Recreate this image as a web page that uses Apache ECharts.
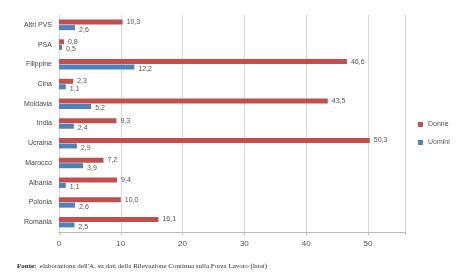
<!DOCTYPE html>
<html>
<head>
<meta charset="utf-8">
<script src="https://cdn.jsdelivr.net/npm/echarts@6/dist/echarts.min.js"></script>
<style>
  html, body { margin: 0; padding: 0; background: #fff; }
  #chart { width: 457px; height: 273px; }
</style>
</head>
<body>
<div id="chart"></div>
<script>
// countries, top to bottom
var countries = ['Altri PVS', 'PSA', 'Filippine', 'Cina', 'Moldavia', 'India', 'Ucraina', 'Marocco', 'Albania', 'Polonia', 'Romania'];
var donne = [10.3, 0.8, 46.6, 2.3, 43.5, 9.3, 50.3, 7.2, 9.4, 10.0, 16.1];
var uomini = [2.6, 0.5, 12.2, 1.1, 5.2, 2.4, 2.9, 3.9, 1.1, 2.6, 2.5];
var xTicks = [0, 10, 20, 30, 40, 50];

var myChart = echarts.init(document.getElementById('chart'));

// labels use the comma as decimal separator
function fmt(p) {
    return p.value.toFixed(1).replace('.', ',');
}

var option = {
    animation: false,
    textStyle: { fontFamily: 'Liberation Sans' },
    legend: {
        orient: 'vertical',
        left: 413,
        top: 116,
        itemWidth: 5,
        itemHeight: 5,
        itemGap: 11,
        icon: 'rect',
        textStyle: { fontSize: 7, color: '#555' },
        data: ['Donne', 'Uomini']
    },
    grid: { left: 59, right: 52, top: 15, bottom: 41 },
    xAxis: {
        type: 'value',
        min: xTicks[0],
        max: 56,
        interval: 10,
        axisLine: { show: true, lineStyle: { color: '#bbb' } },
        axisTick: { show: true, length: 3, lineStyle: { color: '#bbb' } },
        axisLabel: {
            fontSize: 8, color: '#555', margin: 8,
            formatter: function (v) { return xTicks.indexOf(v) >= 0 ? String(v) : ''; }
        },
        splitLine: { show: true, lineStyle: { color: '#d8d8d8' } }
    },
    yAxis: {
        type: 'category',
        inverse: true,
        data: countries,
        axisLine: { show: true, lineStyle: { color: '#d8d8d8' } },
        axisTick: { show: false },
        axisLabel: { fontSize: 7, color: '#444', margin: 7 }
    },
    series: [
        {
            name: 'Donne',
            type: 'bar',
            data: donne,
            barWidth: 5,
            barGap: '10%',
            itemStyle: { color: '#C0504D' },
            label: { show: true, position: 'right', fontSize: 7, color: '#555', distance: 4, formatter: fmt }
        },
        {
            name: 'Uomini',
            type: 'bar',
            data: uomini,
            barWidth: 5,
            itemStyle: { color: '#4F81BD' },
            label: { show: true, position: 'right', fontSize: 7, color: '#555', distance: 4, offset: [0, 2], formatter: fmt }
        }
    ],
    graphic: [{
        type: 'text',
        left: 17,
        top: 260,
        style: {
            rich: {
                b: { fontFamily: 'Liberation Serif', fontSize: 7, fontWeight: 'bold', fill: '#222' },
                n: { fontFamily: 'Liberation Serif', fontSize: 7, fill: '#333' }
            },
            text: '{b|Fonte:} {n|elaborazione dell\'A. su dati della Rilevazione Continua sulla Forza Lavoro (Istat)}'
        }
    }]
};

myChart.setOption(option);
</script>
</body>
</html>
